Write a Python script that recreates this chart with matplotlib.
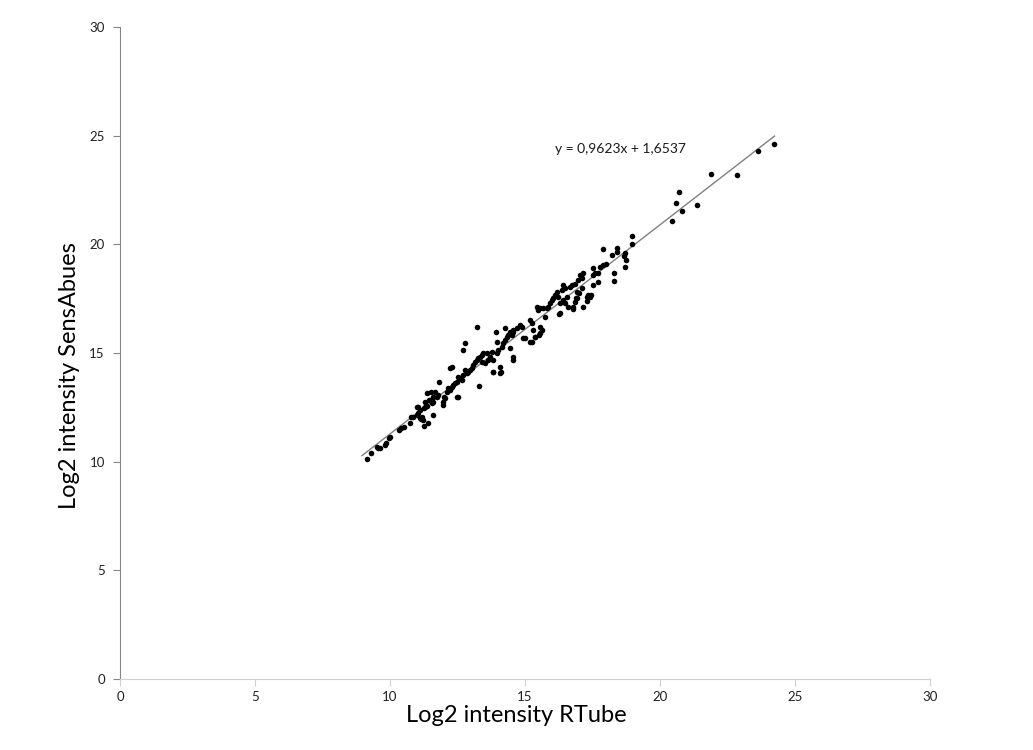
import numpy as np
import matplotlib.pyplot as plt

# Log2 intensities (RTube on x, SensAbues on y)
rtube = [
    9.16, 9.30, 9.51, 9.57, 9.63, 9.80, 9.84, 9.96, 10.00, 10.35, 10.41, 10.50,
    10.74, 10.77, 10.84, 10.99, 11.05, 11.11, 11.17, 11.24, 11.42, 11.61, 11.05, 11.11,
    11.24, 11.30, 11.36, 11.21, 11.36, 11.52, 11.43, 11.58, 11.73, 11.79, 11.83, 11.95,
    11.98, 12.04, 12.10, 12.16, 12.22, 12.29, 12.35, 12.41, 12.47, 12.50, 12.22, 12.29,
    12.53, 12.59, 12.66, 12.72, 12.78, 12.84, 12.90, 12.96, 13.03, 13.09, 13.15, 13.21,
    13.27, 13.33, 13.40, 13.46, 13.52, 13.31, 12.72, 12.78, 13.21, 13.83, 14.08, 14.08,
    13.83, 13.95, 14.01, 14.14, 14.20, 14.26, 14.32, 14.38, 14.45, 14.51, 14.57, 14.26,
    13.93, 13.95, 14.45, 14.54, 14.54, 13.70, 13.77, 13.58, 13.64, 13.40, 11.01, 11.14,
    11.54, 11.48, 11.67, 11.60, 12.00, 12.47, 11.30, 14.44, 13.80, 14.10,
    18.00, 17.90, 18.30, 18.30, 17.53, 17.59, 17.72, 17.78, 17.72, 17.16, 17.04, 17.10,
    16.98, 16.85, 17.10, 17.01, 17.35, 17.41, 17.28, 17.14, 16.85, 16.91, 16.42, 16.48,
    16.36, 16.17, 16.23, 16.11, 16.05, 15.99, 15.93, 15.86, 15.80, 15.68, 15.56, 15.49,
    15.43, 16.30, 16.30, 16.48, 16.60, 16.79, 16.42, 16.54, 15.19, 15.25, 15.56, 15.62,
    15.56, 15.31, 14.81, 14.69, 14.57, 14.51, 14.94, 15.25, 15.37, 14.88, 15.00, 15.19,
    16.73, 16.67, 16.89, 16.94, 17.43, 17.31, 16.79, 16.27, 15.74, 15.37, 15.53,
    18.40, 18.42, 18.70, 18.67, 18.74, 18.70, 18.95, 18.98, 18.21, 17.88, 17.51, 17.51,
    20.43, 20.80, 21.36, 20.59, 20.70, 21.89, 22.84, 23.62, 24.24,
]
sensabues = [
    10.11, 10.39, 10.69, 10.65, 10.61, 10.77, 10.88, 11.08, 11.15, 11.46, 11.54, 11.61,
    11.77, 12.04, 12.07, 12.15, 12.23, 12.00, 12.07, 11.64, 11.77, 12.15, 12.50, 12.38,
    12.46, 12.53, 12.56, 11.92, 13.18, 13.22, 12.84, 12.76, 12.99, 13.07, 13.65, 12.61,
    12.76, 12.91, 13.22, 13.38, 13.30, 13.45, 13.53, 13.61, 13.68, 12.96, 14.30, 14.37,
    13.91, 13.84, 13.76, 13.99, 14.22, 14.07, 14.14, 14.22, 14.30, 14.45, 14.60, 14.68,
    14.76, 14.83, 14.91, 14.99, 14.53, 13.50, 15.14, 15.45, 16.21, 14.14, 14.10, 14.37,
    14.68, 14.99, 15.14, 15.29, 15.45, 15.60, 15.75, 15.83, 15.91, 15.98, 16.06, 16.14,
    15.98, 15.52, 15.22, 14.83, 14.68, 14.83, 15.06, 14.99, 14.68, 14.60, 12.53, 11.95,
    12.68, 12.84, 13.22, 12.99, 12.96, 12.96, 12.76, 15.98, 14.14, 14.14,
    19.10, 19.05, 18.67, 18.33, 18.90, 18.67, 18.70, 18.94, 18.28, 18.67, 18.59, 18.44,
    18.36, 18.18, 17.98, 17.75, 17.67, 17.59, 17.41, 17.13, 17.36, 17.52, 18.13, 17.98,
    17.90, 17.82, 17.59, 17.67, 17.52, 17.44, 17.29, 17.13, 17.06, 17.06, 17.06, 16.98,
    17.13, 17.29, 16.83, 17.29, 17.13, 17.13, 17.44, 17.59, 16.52, 16.37, 16.21, 16.06,
    15.94, 16.06, 16.29, 16.14, 15.98, 15.83, 15.67, 15.52, 15.72, 16.21, 15.68, 15.52,
    18.13, 18.05, 17.52, 17.82, 17.67, 17.59, 17.01, 16.80, 16.67, 15.75, 15.83,
    19.82, 19.63, 19.59, 19.46, 19.28, 18.97, 20.38, 20.02, 19.51, 19.77, 18.59, 18.13,
    21.07, 21.55, 21.81, 21.92, 22.42, 23.22, 23.19, 24.31, 24.62,
]

slope = 0.9623
intercept = 1.6537

x = np.array(rtube)
y = np.array(sensabues)

fig = plt.figure(figsize=(10.33, 7.5), dpi=100)
ax = fig.add_axes([0.1162, 0.0947, 0.7841, 0.8693])

ax.scatter(x, y, s=16, color='black', zorder=3, linewidths=0)

# linear trendline over the data range
xl = np.array([x.min() - 0.2, x.max()])
ax.plot(xl, slope * xl + intercept, color='#808080', lw=1.0, zorder=2)
ax.text(16.1, 24.2, 'y = 0,9623x + 1,6537', fontsize=10, family='Lato', color='#1a1a1a')

ax.set_xlim(0, 30)
ax.set_ylim(0, 30)
ax.set_xticks(range(0, 31, 5))
ax.set_yticks(range(0, 31, 5))

for side in ['top', 'right']:
    ax.spines[side].set_visible(False)
ax.spines['left'].set_color('#868686')
ax.spines['bottom'].set_color('#d0d0d0')
ax.tick_params(axis='y', direction='out', length=5, color='#868686', labelsize=9.5, labelcolor='#222222', pad=6)
ax.tick_params(axis='x', direction='out', length=5, color='#d0d0d0', labelsize=9.5, labelcolor='#222222', pad=4)
for lab in ax.get_xticklabels() + ax.get_yticklabels():
    lab.set_family('Lato')

ax.set_xlabel('Log2 intensity RTube', fontsize=17, family='Lato')
ax.set_ylabel('Log2 intensity SensAbues', fontsize=17, family='Lato')
ax.xaxis.set_label_coords(0.489, -0.04)
ax.yaxis.set_label_coords(-0.05, 0.465)

fig.savefig('out.png', dpi=100)
